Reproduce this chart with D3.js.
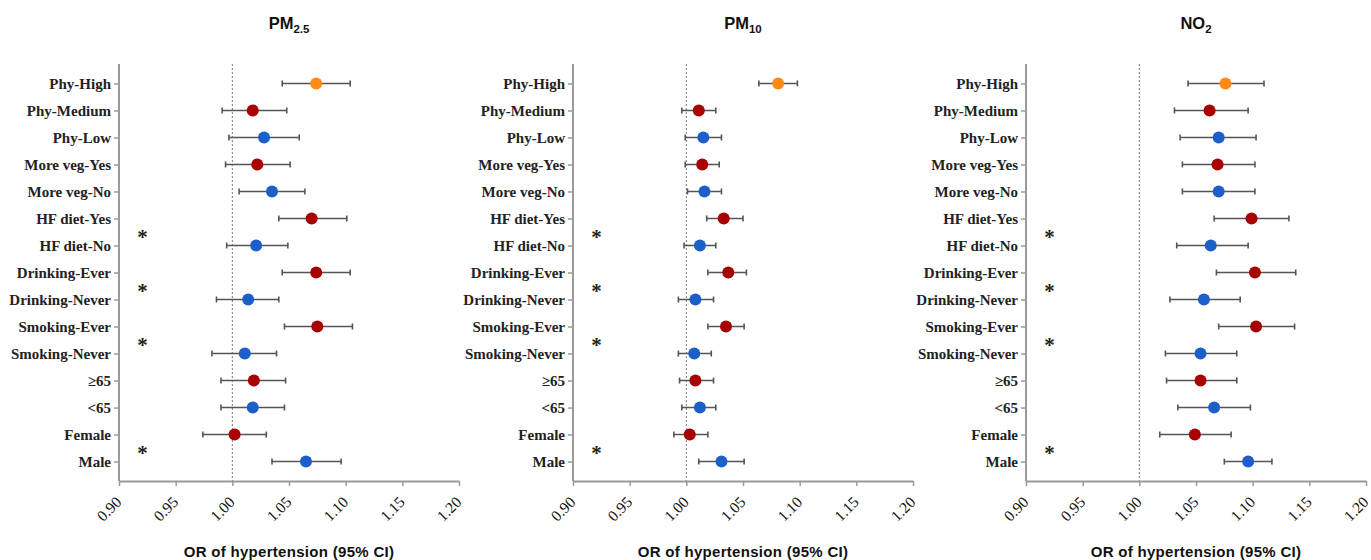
<!DOCTYPE html>
<html>
<head>
<meta charset="utf-8">
<script src="https://cdn.jsdelivr.net/npm/d3@7"></script>
<style>
  body { margin: 0; background: #fff; }
  svg { display: block; }
</style>
</head>
<body>
<svg id="chart" width="1371" height="560"></svg>
<script>
// subgroups, top to bottom
const groups = ["Phy-High", "Phy-Medium", "Phy-Low", "More veg-Yes", "More veg-No",
  "HF diet-Yes", "HF diet-No", "Drinking-Ever", "Drinking-Never", "Smoking-Ever",
  "Smoking-Never", "≥65", "<65", "Female", "Male"];
const kinds = ["high", "exp", "ref", "exp", "ref", "exp", "ref", "exp", "ref", "exp", "ref", "exp", "ref", "exp", "ref"];

// OR, lower, upper
const pm25_or = [1.074, 1.018, 1.028, 1.022, 1.035, 1.070, 1.021, 1.074, 1.014, 1.075, 1.011, 1.019, 1.018, 1.002, 1.065];
const pm25_lo = [1.044, 0.991, 0.997, 0.994, 1.006, 1.041, 0.995, 1.044, 0.986, 1.046, 0.982, 0.990, 0.990, 0.974, 1.035];
const pm25_hi = [1.104, 1.048, 1.059, 1.051, 1.064, 1.101, 1.049, 1.104, 1.041, 1.106, 1.039, 1.047, 1.046, 1.030, 1.096];

const pm10_or = [1.081, 1.011, 1.015, 1.014, 1.016, 1.033, 1.012, 1.037, 1.008, 1.035, 1.007, 1.008, 1.012, 1.003, 1.031];
const pm10_lo = [1.064, 0.996, 0.999, 0.999, 1.001, 1.018, 0.998, 1.019, 0.993, 1.019, 0.993, 0.994, 0.996, 0.989, 1.011];
const pm10_hi = [1.098, 1.026, 1.031, 1.029, 1.031, 1.050, 1.026, 1.053, 1.024, 1.051, 1.022, 1.024, 1.026, 1.019, 1.051];

const no2_or = [1.076, 1.062, 1.070, 1.069, 1.070, 1.099, 1.063, 1.102, 1.057, 1.103, 1.054, 1.054, 1.066, 1.049, 1.096];
const no2_lo = [1.043, 1.031, 1.036, 1.038, 1.038, 1.066, 1.033, 1.068, 1.027, 1.070, 1.023, 1.024, 1.034, 1.018, 1.075];
const no2_hi = [1.110, 1.096, 1.103, 1.102, 1.102, 1.132, 1.096, 1.138, 1.089, 1.137, 1.086, 1.086, 1.098, 1.081, 1.117];

// pairs with significant difference (marked with *)
const sigPairs = [["HF diet-Yes", "HF diet-No"], ["Drinking-Ever", "Drinking-Never"],
  ["Smoking-Ever", "Smoking-Never"], ["Female", "Male"]];

const xTicks = [0.90, 0.95, 1.00, 1.05, 1.10, 1.15, 1.20];
const xTitle = "OR of hypertension (95% CI)";

const colors = { high: "#ff8a16", exp: "#a80000", ref: "#1c5fc9" };

const panels = [
  { base: "PM", sub: "2.5", left: 119, or: pm25_or, lo: pm25_lo, hi: pm25_hi },
  { base: "PM", sub: "10", left: 573, or: pm10_or, lo: pm10_lo, hi: pm10_hi },
  { base: "NO", sub: "2", left: 1026, or: no2_or, lo: no2_lo, hi: no2_hi }
];

const svg = d3.select("#chart");
const plotTop = 64, plotBottom = 481, plotW = 340;
const axisColor = "#9a9a9a";
const serif = "'Liberation Serif', 'Times New Roman', serif";
const sans = "Arial, 'Liberation Sans', sans-serif";

const y = d3.scalePoint().domain(groups).range([plotTop, plotBottom]).padding(0.72);

panels.forEach(p => {
  const g = svg.append("g").attr("transform", `translate(${p.left},0)`);
  const x = d3.scaleLinear().domain([0.9, 1.2]).range([0, plotW]);

  // title
  const t = g.append("text")
    .attr("x", plotW / 2).attr("y", 28.5)
    .attr("text-anchor", "middle")
    .style("font-family", sans)
    .style("font-weight", "bold").style("font-size", "16.5px")
    .attr("fill", "#111");
  t.append("tspan").text(p.base);
  t.append("tspan").text(p.sub).attr("dy", 4).style("font-size", "11.5px");

  // reference line at OR = 1
  g.append("line")
    .attr("x1", x(1)).attr("x2", x(1))
    .attr("y1", plotTop).attr("y2", plotBottom)
    .attr("stroke", "#777").attr("stroke-width", 1)
    .attr("stroke-dasharray", "2,2");

  // x axis
  const xa = g.append("g").attr("transform", `translate(0,${plotBottom})`)
    .call(d3.axisBottom(x).tickValues(xTicks).tickFormat(d3.format(".2f")).tickSize(5).tickSizeOuter(0));
  xa.select(".domain").attr("stroke", axisColor).attr("stroke-width", 2);
  xa.selectAll(".tick line").attr("stroke", axisColor).attr("stroke-width", 1.5);
  xa.selectAll(".tick text")
    .attr("fill", "#111")
    .style("font-family", serif)
    .style("font-size", "15.5px")
    .attr("text-anchor", "end")
    .attr("dy", null).attr("y", 0)
    .attr("transform", "translate(3,22) rotate(-45)");

  // y axis
  const ya = g.append("g")
    .call(d3.axisLeft(y).tickSize(5).tickSizeOuter(0).tickPadding(3));
  ya.select(".domain").attr("stroke", axisColor).attr("stroke-width", 2)
    .attr("d", `M0,${plotTop}V${plotBottom}`);
  ya.selectAll(".tick line").attr("stroke", axisColor).attr("stroke-width", 1.5);
  ya.selectAll(".tick text")
    .attr("fill", "#222")
    .style("font-family", serif)
    .style("font-weight", "bold")
    .style("font-size", "15px");

  // x axis title
  g.append("text")
    .attr("x", plotW / 2).attr("y", 556.5)
    .attr("text-anchor", "middle")
    .style("font-family", sans)
    .style("font-weight", "bold").style("font-size", "15px")
    .style("letter-spacing", "0.3px")
    .attr("fill", "#111")
    .text(xTitle);

  const rows = groups.map((name, i) => ({ name, kind: kinds[i], or: p.or[i], lo: p.lo[i], hi: p.hi[i] }));

  // error bars
  const eb = g.selectAll(".eb").data(rows).enter().append("g").attr("class", "eb")
    .attr("stroke", "#555").attr("stroke-width", 1.6);
  eb.append("line")
    .attr("x1", d => x(d.lo)).attr("x2", d => x(d.hi))
    .attr("y1", d => y(d.name)).attr("y2", d => y(d.name));
  eb.append("line")
    .attr("x1", d => x(d.lo)).attr("x2", d => x(d.lo))
    .attr("y1", d => y(d.name) - 3).attr("y2", d => y(d.name) + 3);
  eb.append("line")
    .attr("x1", d => x(d.hi)).attr("x2", d => x(d.hi))
    .attr("y1", d => y(d.name) - 3).attr("y2", d => y(d.name) + 3);

  // points
  g.selectAll("circle").data(rows).enter().append("circle")
    .attr("cx", d => x(d.or)).attr("cy", d => y(d.name))
    .attr("r", 6)
    .attr("fill", d => colors[d.kind]);

  // significance stars
  g.selectAll(".star").data(sigPairs).enter().append("text")
    .attr("class", "star")
    .attr("x", 23.5)
    .attr("y", d => (y(d[0]) + y(d[1])) / 2 + 12)
    .attr("text-anchor", "middle")
    .style("font-family", serif)
    .style("font-weight", "bold").style("font-size", "21px")
    .attr("fill", "#222")
    .text("*");
});
</script>
</body>
</html>
